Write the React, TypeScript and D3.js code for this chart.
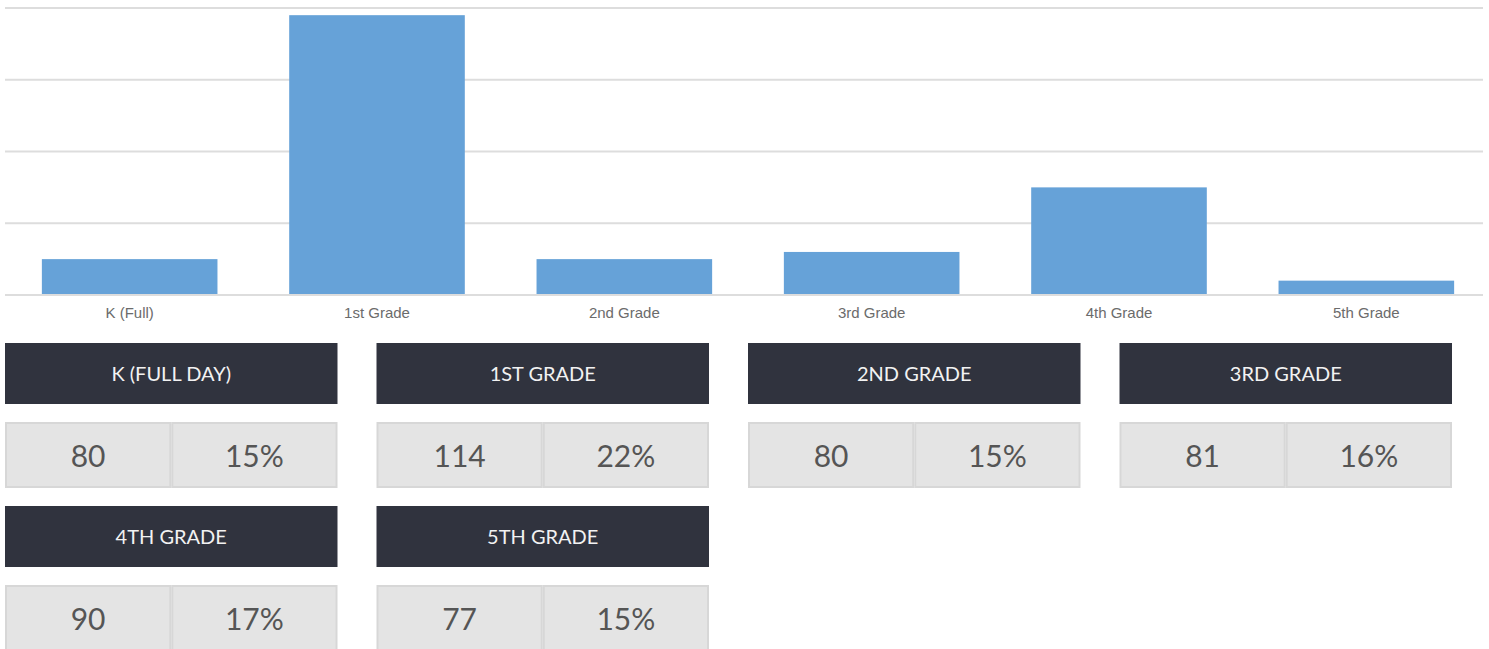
import React, { useEffect, useRef } from 'react';
import * as d3 from 'd3';

const categories = ['K (Full)', '1st Grade', '2nd Grade', '3rd Grade', '4th Grade', '5th Grade'];
const barValues = [5, 39, 5, 6, 15, 2];
const yTicks = [0, 10, 20, 30, 40];

const cardTitles = ['K (FULL DAY)', '1ST GRADE', '2ND GRADE', '3RD GRADE', '4TH GRADE', '5TH GRADE'];
const counts = [80, 114, 80, 81, 90, 77];
const percents = ['15%', '22%', '15%', '16%', '17%', '15%'];

const W = 1489;
const H = 649;

const App = () => {
  const ref = useRef<SVGSVGElement>(null);

  useEffect(() => {
    const svg = d3.select(ref.current);
    svg.selectAll('*').remove();

    const x = d3.scaleBand<string>()
      .domain(categories)
      .range([6, 1490])
      .paddingInner(0.29)
      .paddingOuter(0.145);

    const y = d3.scaleLinear().domain([0, 40]).range([295, 8]);

    // gridlines
    svg.append('g')
      .selectAll('line')
      .data(yTicks)
      .enter()
      .append('line')
      .attr('x1', 5)
      .attr('x2', 1483)
      .attr('y1', d => y(d))
      .attr('y2', d => y(d))
      .attr('stroke', '#dddddd')
      .attr('stroke-width', 2);

    // bars
    svg.append('g')
      .selectAll('rect')
      .data(barValues)
      .enter()
      .append('rect')
      .attr('x', (d, i) => x(categories[i])!)
      .attr('width', x.bandwidth())
      .attr('y', d => y(d))
      .attr('height', d => y(0) - y(d) - 1)
      .attr('fill', '#66a2d8');

    // category labels
    svg.append('g')
      .selectAll('text')
      .data(categories)
      .enter()
      .append('text')
      .attr('x', d => x(d)! + x.bandwidth() / 2)
      .attr('y', 318)
      .attr('text-anchor', 'middle')
      .style('font-family', '"Liberation Sans", Arial, sans-serif')
      .style('font-size', '15px')
      .style('fill', '#6b6b6b')
      .text(d => d);

    // summary cards
    const col = d3.scaleBand<number>()
      .domain([0, 1, 2, 3])
      .range([5, 1452])
      .paddingInner(0.105)
      .paddingOuter(0);
    const cw = col.bandwidth();
    const rowTop = [343, 506];

    const cards = svg.append('g')
      .selectAll('g')
      .data(cardTitles)
      .enter()
      .append('g')
      .attr('transform', (d, i) => `translate(${col(i % 4)},${rowTop[Math.floor(i / 4)]})`);

    cards.append('rect')
      .attr('width', cw)
      .attr('height', 61)
      .attr('fill', '#30333e');

    cards.append('text')
      .attr('x', cw / 2)
      .attr('y', 38)
      .attr('text-anchor', 'middle')
      .style('font-family', 'Lato, sans-serif')
      .style('font-size', '20px')
      .style('fill', '#f2f2f2')
      .text(d => d);

    const half = cw / 2;
    [0, 1].forEach(k => {
      cards.append('rect')
        .attr('x', k * half + 1)
        .attr('y', 80)
        .attr('width', half - 2)
        .attr('height', 64)
        .attr('fill', '#e4e4e4')
        .attr('stroke', '#d7d7d7')
        .attr('stroke-width', 2);

      cards.append('text')
        .attr('x', k * half + half / 2)
        .attr('y', 124)
        .attr('text-anchor', 'middle')
        .style('font-family', 'Lato, sans-serif')
        .style('font-size', '30px')
        .style('fill', '#555')
        .text((d, i) => (k === 0 ? String(counts[i]) : percents[i]));
    });
  }, []);

  return (
    <svg
      ref={ref}
      width={W}
      height={H}
      style={{ position: 'absolute', left: 0, top: 0, background: '#fff' }}
    />
  );
};

export default App;
